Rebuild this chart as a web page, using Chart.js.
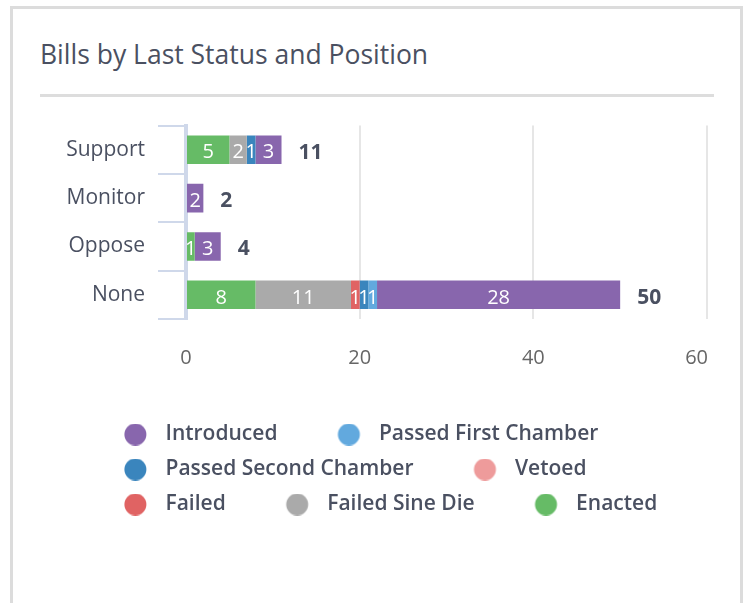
<!DOCTYPE html>
<html><head><meta charset="utf-8">
<script src="https://cdn.jsdelivr.net/npm/chart.js@4"></script>
<style>
html,body{margin:0;padding:0;background:#fff;width:748px;height:603px;overflow:hidden;font-family:'Open Sans',sans-serif;}
#card{position:absolute;left:10px;top:6px;width:733px;height:700px;border:3px solid #dcdcdc;box-sizing:border-box;}
#title{position:absolute;left:40px;top:41px;font-size:26.5px;line-height:27px;color:#4a5061;white-space:nowrap;}
#rule{position:absolute;left:40px;top:94px;width:674px;height:3px;background:#dddddd;}
#c{position:absolute;left:0;top:100px;}
</style></head><body>
<div id="card"></div>
<div id="title">Bills by Last Status and Position</div>
<div id="rule"></div>
<canvas id="c" width="748" height="425"></canvas>
<script>
// ---- data ----
const categories = ['Support', 'Monitor', 'Oppose', 'None'];
const introduced = [3, 2, 3, 28];
const passedFirstChamber = [0, 0, 0, 1];
const passedSecondChamber = [1, 0, 0, 1];
const vetoed = [0, 0, 0, 0];
const failed = [0, 0, 0, 1];
const failedSineDie = [2, 0, 0, 11];
const enacted = [5, 0, 1, 8];
const xTickValues = [0, 20, 40, 60];

// stacking order (first = nearest zero); legend shown reversed
const seriesLabels = ['Enacted', 'Failed Sine Die', 'Failed', 'Vetoed', 'Passed Second Chamber', 'Passed First Chamber', 'Introduced'];
const seriesData = [enacted, failedSineDie, failed, vetoed, passedSecondChamber, passedFirstChamber, introduced];
const seriesColors = ['#66bb66', '#aaaaaa', '#e06363', '#ee9b9b', '#3a85bd', '#62a9de', '#8866ad'];

Chart.defaults.font.family = "'Open Sans', sans-serif";

function marker(color) {
  const c = document.createElement('canvas');
  c.width = 77; c.height = 22;
  const g = c.getContext('2d');
  g.fillStyle = color;
  g.beginPath();
  g.arc(57.4, 11, 11, 0, Math.PI * 2);
  g.fill();
  return c;
}

const barLabels = {
  id: 'barLabels',
  afterDatasetsDraw(chart) {
    const ctx = chart.ctx;
    ctx.save();
    ctx.font = "400 20px 'Open Sans'";
    ctx.fillStyle = '#ffffff';
    ctx.textAlign = 'center';
    ctx.textBaseline = 'middle';
    chart.data.datasets.forEach((ds, i) => {
      const meta = chart.getDatasetMeta(i);
      meta.data.forEach((el, j) => {
        const v = ds.data[j];
        if (!v) return;
        const p = el.getProps(['x', 'base', 'y'], true);
        ctx.fillText(String(v), (p.x + p.base) / 2, p.y + 3);
      });
    });
    ctx.font = "700 21px 'Open Sans'";
    ctx.fillStyle = '#4a5061';
    ctx.textAlign = 'left';
    const xs = chart.scales.x, ys = chart.scales.y;
    categories.forEach((c, j) => {
      const total = chart.data.datasets.reduce((s, ds) => s + (ds.data[j] || 0), 0);
      ctx.fillText(String(total), xs.getPixelForValue(total) + 17, ys.getPixelForValue(j) + 3);
    });
    ctx.restore();
  }
};

new Chart(document.getElementById('c'), {
  type: 'bar',
  data: {
    labels: categories,
    datasets: seriesLabels.map((label, i) => ({
      label,
      data: seriesData[i],
      backgroundColor: seriesColors[i],
      pointStyle: marker(seriesColors[i]),
      barPercentage: 0.59,
      categoryPercentage: 1
    }))
  },
  options: {
    indexAxis: 'y',
    responsive: false,
    animation: false,
    layout: { padding: { left: 64, right: 41, top: 23, bottom: 0 } },
    scales: {
      x: {
        type: 'linear',
        stacked: true,
        min: 0,
        max: 60,
        afterBuildTicks: (s) => { s.ticks = xTickValues.map(v => ({ value: v })); },
        afterFit: (s) => { s.height = 91; s.paddingLeft = 0; s.paddingRight = 0; },
        grid: {
          drawTicks: false,
          lineWidth: 2,
          color: (c) => (c.tick && c.tick.value === 0) ? 'rgba(0,0,0,0)' : '#e6e6e6'
        },
        border: { display: false },
        ticks: {
          color: '#666666',
          font: { size: 20 },
          padding: 27,
          callback: (v, i, arr) => (i === arr.length - 1) ? String(v) + '    ' : String(v)
        }
      },
      y: {
        type: 'category',
        stacked: true,
        offset: true,
        afterFit: (s) => { s.width = 122; },
        grid: { offset: true, drawOnChartArea: false, color: '#cfd8ea', lineWidth: 2, tickLength: 28 },
        border: { display: true, color: '#cfd8ea', width: 4 },
        ticks: { color: '#4a5061', font: { size: 21 }, padding: 13 }
      }
    },
    plugins: {
      tooltip: { enabled: false },
      legend: {
        position: 'bottom',
        align: 'start',
        reverse: true,
        labels: {
          usePointStyle: true,
          pointStyleWidth: 77,
          padding: 14,
          color: '#4a5061',
          font: { size: 21, weight: '600' }
        }
      }
    }
  },
  plugins: [barLabels]
});
</script>
</body></html>
